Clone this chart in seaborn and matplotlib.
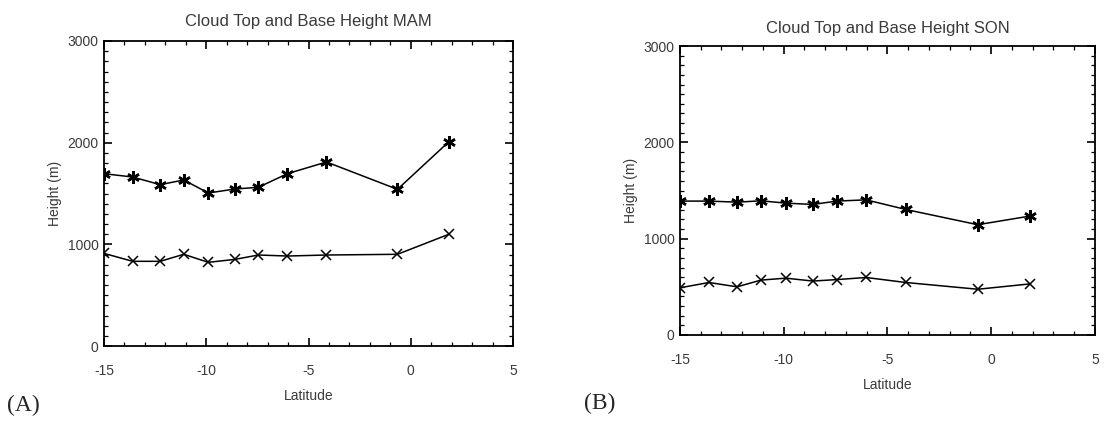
import matplotlib
matplotlib.use("Agg")
import matplotlib.pyplot as plt
import seaborn as sns
import numpy as np
from matplotlib.ticker import MultipleLocator
from matplotlib import font_manager

sns.set_theme(style="ticks")

names = {f.name for f in font_manager.fontManager.ttflist}
sans = "Liberation Sans Narrow" if "Liberation Sans Narrow" in names else "Liberation Sans"
plt.rcParams["font.family"] = [sans, "DejaVu Sans"]
plt.rcParams["axes.unicode_minus"] = False

latitude = [-15.0, -13.6, -12.25, -11.1, -9.9, -8.6, -7.45, -6.03, -4.12, -0.65, 1.85]

mam_top = [1695, 1662, 1587, 1633, 1505, 1544, 1561, 1695, 1810, 1541, 2007]
mam_base = [911, 833, 833, 902, 823, 852, 895, 885, 895, 902, 1098]

son_top = [1390, 1390, 1379, 1393, 1369, 1355, 1390, 1403, 1303, 1145, 1234]
son_base = [490, 545, 500, 570, 590, 560, 575, 597, 545, 475, 530]

titles = ["Cloud Top and Base Height MAM", "Cloud Top and Base Height SON"]
panel_labels = ["(A)", "(B)"]

fig = plt.figure(figsize=(11.06, 4.22), dpi=100)
axA = fig.add_axes([104/1106, 1-346/422, (513-104)/1106, (346-41)/422])
axB = fig.add_axes([680/1106, 1-335/422, (1095-680)/1106, (335-46)/422])

asterisk = (6, 2, 0)
txtcol = "#3a3a3a"

for ax, top, base, title, tpad in [(axA, mam_top, mam_base, titles[0], 11),
                                   (axB, son_top, son_base, titles[1], 9)]:
    sns.lineplot(x=latitude, y=top, ax=ax, color="black", lw=1.1,
                 marker=asterisk, markersize=9, markeredgewidth=1.8, markeredgecolor="black")
    sns.lineplot(x=latitude, y=base, ax=ax, color="black", lw=1.1,
                 marker="x", markersize=7, markeredgewidth=1.1, markeredgecolor="black")
    ax.set_xlim(-15, 5)
    ax.set_ylim(0, 3000)
    ax.xaxis.set_major_locator(MultipleLocator(5))
    ax.xaxis.set_minor_locator(MultipleLocator(1))
    ax.yaxis.set_major_locator(MultipleLocator(1000))
    ax.yaxis.set_minor_locator(MultipleLocator(100))
    ax.tick_params(which="both", direction="in", top=True, right=True, colors="black",
                   labelcolor=txtcol, labelsize=10)
    ax.tick_params(which="major", length=6, width=1.2)
    ax.tick_params(which="minor", length=3, width=0.9)
    ax.tick_params(axis="x", pad=13)
    ax.tick_params(axis="y", pad=4)
    for s in ax.spines.values():
        s.set_linewidth(1.3)
        s.set_color("black")
    ax.set_xlabel("Latitude", color=txtcol, fontsize=10, labelpad=8)
    ax.set_ylabel("Height (m)", color=txtcol, fontsize=10, labelpad=4)
    ax.set_title(title, color=txtcol, fontsize=12, pad=tpad)
    fig.canvas.draw()
    ylabels = ax.get_yticklabels()
    ylabels[0].set_va("bottom")
    ylabels[-1].set_va("top")

fig.text(7/1106, 1-405/422, panel_labels[0], fontsize=17, family="Liberation Serif", va="center", ha="left")
fig.text(584/1106, 1-403/422, panel_labels[1], fontsize=17, family="Liberation Serif", va="center", ha="left")

fig.savefig("out.png", dpi=100)
